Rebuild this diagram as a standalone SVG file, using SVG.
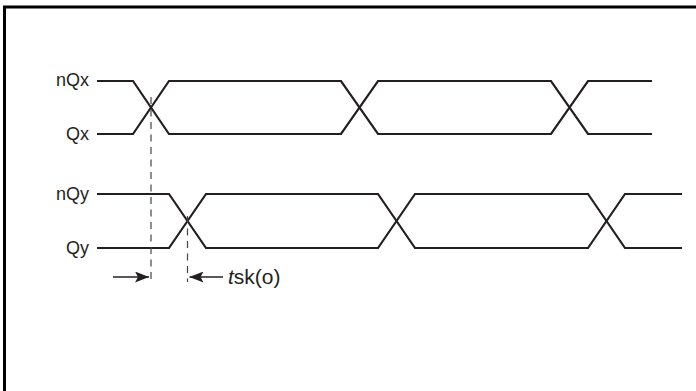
<svg xmlns="http://www.w3.org/2000/svg" width="696" height="391" viewBox="0 0 696 391">
<style>
.sig{fill:none;stroke:#231f20;stroke-width:2.2;stroke-linejoin:miter}
.dash{fill:none;stroke:#444;stroke-width:1.2;stroke-dasharray:7 5.5}
.lbl{font-family:"Liberation Sans",Arial,sans-serif;font-size:18px;fill:#231f20}
.arr{fill:none;stroke:#231f20;stroke-width:1.4}
.frame{fill:none;stroke:#000;stroke-width:3}
</style>
<defs>
<marker id="ah" viewBox="0 0 14 11" refX="14" refY="5.5" markerWidth="14" markerHeight="11" markerUnits="userSpaceOnUse" orient="auto">
<path d="M0,0 L14,5.5 L0,11 L3,5.5 Z" fill="#231f20"/>
</marker>
</defs>
<g id="frame">
<path class="frame" d="M3,7 H696 M4.5,5.5 V391"/>
</g>
<g id="labels">
<text class="lbl" x="89" y="86" text-anchor="end">nQx</text>
<text class="lbl" x="89" y="140" text-anchor="end">Qx</text>
<text class="lbl" x="89" y="200" text-anchor="end">nQy</text>
<text class="lbl" x="89" y="254" text-anchor="end">Qy</text>
</g>
<g id="signal-x">
<path class="sig" d="M97,81 H133 L169,134 H341 L378,81 H551 L588,134 H652"/>
<path class="sig" d="M97,134 H133 L169,81 H341 L378,134 H551 L588,81 H652"/>
</g>
<g id="signal-y">
<path class="sig" d="M97,194 H169 L206,248 H378 L415,194 H588 L625,248 H682"/>
<path class="sig" d="M97,248 H169 L206,194 H378 L415,248 H588 L625,194 H682"/>
</g>
<g id="connectors">
<line class="dash" x1="151" y1="97" x2="151" y2="282"/>
<line class="dash" x1="187.5" y1="216" x2="187.5" y2="282"/>
<line class="arr" x1="113" y1="277" x2="149" y2="277" marker-end="url(#ah)"/>
<line class="arr" x1="223" y1="277" x2="189.5" y2="277" marker-end="url(#ah)"/>
</g>
<g id="skew-label">
<text class="lbl" x="228" y="284" style="font-size:21px"><tspan font-style="italic">t</tspan>sk(o)</text>
</g>
</svg>
